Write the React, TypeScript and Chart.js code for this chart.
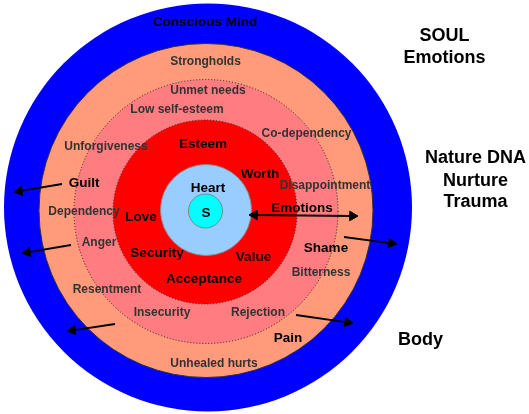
import React, { useEffect, useRef } from 'react';
import { Chart, registerables } from 'chart.js';

Chart.register(...registerables);

// Concentric circles (outer -> inner)
const ringNames = ['Conscious Mind', 'Strongholds', 'Wounds', 'Core', 'Heart', 'S'];
const ringX = [208, 206, 206, 205, 206, 205.5];
const ringY = [207.5, 210.5, 211.5, 212, 210, 211];
const ringRadius = [204, 167, 132, 92, 45.5, 17];
const ringFill = ['#0000FF', '#FF9A7B', '#FF7C80', '#FF0000', '#99CCFF', '#00FFFF'];
const ringBorder = ['#0000FF', '#333333', '#222222', '#222222', '#8a8a8a', '#6f8f8f'];
const ringBorderWidth = [0, 1, 1, 1, 1, 1];
const ringDotted = [false, false, true, true, false, false];

// Arrows: tail -> head (head point = arrowhead centre)
const arrowTailX = [62, 71, 115, 296, 344, 254.5];
const arrowTailY = [184, 245, 324, 315, 237, 215];
const arrowHeadX = [19.4, 27.4, 72.5, 347.5, 391.5, 352.5];
const arrowHeadY = [191.2, 252.3, 330.3, 322.4, 243.4, 216];
const arrowDouble = [false, false, false, false, false, true];

// Bold black labels
const mainLabels = ['Conscious Mind', 'Guilt', 'Esteem', 'Worth', 'Heart', 'S', 'Love', 'Emotions', 'Security', 'Value', 'Acceptance', 'Shame', 'Pain'];
const mainLabelX = [205, 84, 203, 260, 208, 206, 141, 302, 157, 253.5, 204, 326, 288];
const mainLabelY = [22, 183, 144, 174, 188, 213, 217, 208, 253, 257, 279, 248, 338];

// Grey ring labels
const ringLabels = ['Strongholds', 'Unmet needs', 'Low self-esteem', 'Co-dependency', 'Unforgiveness', 'Disappointment', 'Dependency', 'Anger', 'Bitterness', 'Resentment', 'Insecurity', 'Rejection', 'Unhealed hurts'];
const ringLabelX = [205.5, 208, 177, 306.5, 106, 325, 84, 99, 321, 107, 162, 258, 214];
const ringLabelY = [62, 91, 110, 134, 147, 186, 212, 243, 273, 290, 313, 313, 364];

// Side labels
const sideLabels = ['SOUL', 'Emotions', 'Nature DNA', 'Nurture', 'Trauma', 'Body'];
const sideLabelX = [444.5, 444.5, 475.5, 475.5, 475.5, 420.5];
const sideLabelY = [36, 58, 158, 181, 202, 340];

const FONT = '"Liberation Sans", Arial, Helvetica, sans-serif';

const dottedPlugin = {
  id: 'dottedRings',
  beforeDatasetDraw(chart: any, args: any) {
    const ds = chart.data.datasets[args.index];
    if (ds && ds.dotted) chart.ctx.setLineDash([1, 2]);
  },
  afterDatasetDraw(chart: any) {
    chart.ctx.setLineDash([]);
  },
};

const labelPlugin = {
  id: 'diagramLabels',
  afterDatasetsDraw(chart: any) {
    const { ctx, scales } = chart;
    const xs = scales.x;
    const ys = scales.y;
    ctx.save();
    ctx.textAlign = 'center';
    ctx.textBaseline = 'middle';
    const draw = (texts: string[], xv: number[], yv: number[], font: string, color: string) => {
      ctx.font = font;
      ctx.fillStyle = color;
      texts.forEach((t, i) => {
        ctx.fillText(t, xs.getPixelForValue(xv[i]), ys.getPixelForValue(yv[i]));
      });
    };
    draw(ringLabels, ringLabelX, ringLabelY, `bold 12px ${FONT}`, '#333333');
    draw(mainLabels, mainLabelX, mainLabelY, `bold 13.5px ${FONT}`, '#000000');
    draw(sideLabels, sideLabelX, sideLabelY, `bold 18px ${FONT}`, '#000000');
    ctx.restore();
  },
};

export default function App() {
  const ref = useRef<HTMLCanvasElement | null>(null);

  useEffect(() => {
    if (!ref.current) return;
    const n = ringNames.length;
    const ringDatasets = ringNames.map((name, i) => ({
      type: 'bubble' as const,
      label: name,
      data: [{ x: ringX[i], y: ringY[i], r: ringRadius[i] }],
      backgroundColor: ringFill[i],
      borderColor: ringBorder[i],
      borderWidth: ringBorderWidth[i],
      hoverRadius: 0,
      hoverBorderWidth: ringBorderWidth[i],
      dotted: ringDotted[i],
      order: n - i + 1,
      clip: false,
    }));

    const arrowDatasets = arrowTailX.map((_, i) => {
      const dx = arrowHeadX[i] - arrowTailX[i];
      const dy = arrowHeadY[i] - arrowTailY[i];
      const fwd = (Math.atan2(dx, -dy) * 180) / Math.PI;
      return {
        type: 'line' as const,
        label: 'arrow' + i,
        data: [
          { x: arrowTailX[i], y: arrowTailY[i] },
          { x: arrowHeadX[i], y: arrowHeadY[i] },
        ],
        borderColor: '#000000',
        borderWidth: 1.8,
        backgroundColor: '#000000',
        fill: false,
        tension: 0,
        pointStyle: 'triangle',
        pointRadius: [arrowDouble[i] ? 5.5 : 0, 5.5],
        pointRotation: [fwd + 180, fwd],
        pointBackgroundColor: '#000000',
        pointBorderColor: '#000000',
        pointBorderWidth: 1,
        pointHoverRadius: 0,
        order: 0,
        clip: false,
      };
    });

    const chart = new Chart(ref.current, {
      type: 'bubble',
      data: { datasets: [...arrowDatasets, ...ringDatasets] as any },
      options: {
        animation: false,
        responsive: false,
        events: [],
        layout: { padding: 0, autoPadding: false },
        scales: {
          x: { type: 'linear', min: 0, max: 529, display: false },
          y: { type: 'linear', min: 0, max: 414, reverse: true, display: false },
        },
        plugins: {
          legend: { display: false },
          tooltip: { enabled: false },
        },
      },
      plugins: [dottedPlugin, labelPlugin],
    } as any);

    return () => chart.destroy();
  }, []);

  return (
    <div style={{ position: 'fixed', left: 0, top: 0, width: 529, height: 414, background: '#ffffff' }}>
      <canvas ref={ref} width={529} height={414} style={{ display: 'block', width: 529, height: 414 }} />
    </div>
  );
}
